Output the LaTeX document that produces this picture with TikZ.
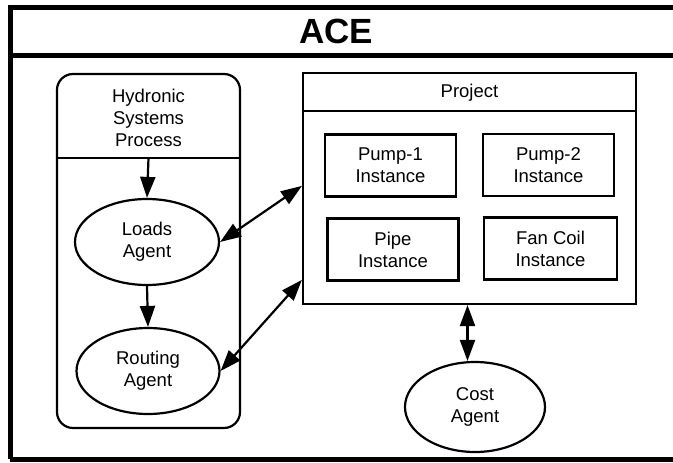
\documentclass[tikz,border=0pt]{standalone}
\usepackage{fontspec}
\setmainfont{Liberation Sans}
\usetikzlibrary{shapes.geometric,arrows.meta}
\begin{document}
\begin{tikzpicture}[x=1pt,y=-1pt,
  txt/.style={font=\fontsize{18.5}{22}\selectfont, align=center},
  box/.style={draw, line width=2.2pt, rectangle, inner sep=0pt, txt},
  agent/.style={draw, line width=2.2pt, ellipse, inner sep=0pt, txt},
  inst/.style={box, minimum width=131pt, minimum height=62pt},
  tip/.style={Triangle[length=21pt,width=15pt]},
  arr/.style={line width=2.2pt, -{Triangle[length=21pt,width=15pt]}},
  darr/.style={line width=2.2pt, {Triangle[length=21pt,width=15pt]}-{Triangle[length=21pt,width=15pt]}}
]
\useasboundingbox (0,0) rectangle (673,463);
% outer frame
\draw[line width=5pt] (10,459) -- (10,7) -- (700,7);
\draw[line width=5pt] (10,459) -- (700,459);
\draw[line width=5pt] (10,55) -- (700,55);
\node[font=\fontsize{35}{40}\selectfont\bfseries] (title) at (336,31) {ACE};
% left process box
\node[draw, line width=2.2pt, rounded corners=16pt, minimum width=183pt, minimum height=354pt, inner sep=0pt] (hsp) at (148.5,251) {};
\coordinate (hspdivw) at ([yshift=-85pt]hsp.north west);
\coordinate (hspdive) at ([yshift=-85pt]hsp.north east);
\coordinate (hspdiv) at ([yshift=-85pt]hsp.north);
\draw[line width=2.2pt] (hspdivw) -- (hspdive);
\node[txt] (hsptxt) at (148.5,118) {Hydronic\\Systems\\Process};
\node[agent, minimum width=144pt, minimum height=86pt] (loads) at (147,242) {Loads\\Agent};
\node[agent, minimum width=143pt, minimum height=86pt] (routing) at (148,371) {Routing\\Agent};
\draw[arr] (hspdiv) -- (loads.north);
\draw[arr] (loads.south) -- (routing.north);
% project box
\node[box, minimum width=333pt, minimum height=231pt] (proj) at (469.5,188.5) {};
\coordinate (projdivw) at ([yshift=-39pt]proj.north west);
\coordinate (projdive) at ([yshift=-39pt]proj.north east);
\draw[line width=2.2pt] (projdivw) -- (projdive);
\node[txt] (projtxt) at (469.5,93) {Project};
\node[inst] (pump1) at (390.5,165.5) {Pump-1\\Instance};
\node[inst] (pump2) at (548.5,165) {Pump-2\\Instance};
\node[inst] (pipe) at (393,249.5) {Pipe\\Instance};
\node[inst, minimum width=133pt] (fancoil) at (550.5,248.5) {Fan Coil\\Instance};
% cost agent
\node[agent, minimum width=140pt, minimum height=90pt] (cost) at (475,407) {Cost\\Agent};
% connectors
\coordinate (projA) at ([yshift=-114pt]proj.north west);
\coordinate (projB) at ([yshift=-208pt]proj.north west);
\coordinate (projC) at ([xshift=-2pt]proj.south);
\draw[darr] (loads.east) -- (projA);
\draw[darr] (routing.east) -- (projB);
\draw[darr] (projC) -- (projC |- cost.north);
\end{tikzpicture}
\end{document}
